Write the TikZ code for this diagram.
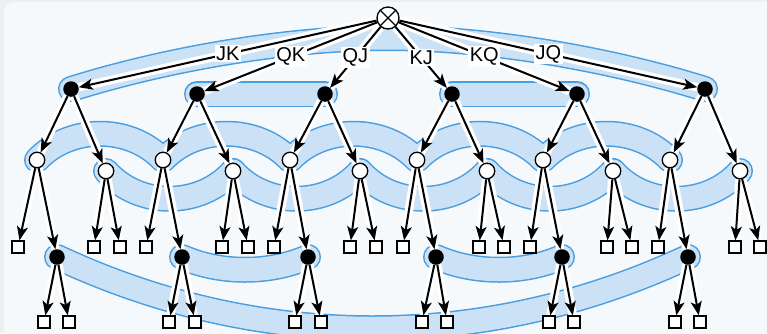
\documentclass[tikz,border=0pt]{standalone}
\usepackage{fontspec}
\newfontfamily\lbl{Liberation Sans}
\usetikzlibrary{arrows.meta}
\definecolor{bandfill}{HTML}{CBE2F6}
\definecolor{bandline}{HTML}{4A9EE0}
\definecolor{panelbg}{HTML}{F5F9FC}
\definecolor{outerbg}{HTML}{EFEFEF}
\pgfdeclarelayer{back}
\pgfdeclarelayer{halos}
\pgfdeclarelayer{edges}
\pgfsetlayers{back,halos,edges,main}
\begin{document}
\begin{tikzpicture}[x=1pt,y=-1pt,
  chance/.style={circle, draw, fill=white, line width=1.3pt, minimum size=22pt, inner sep=0pt,
    path picture={\draw[line width=1.3pt] (path picture bounding box.north west) -- (path picture bounding box.south east)
      (path picture bounding box.north east) -- (path picture bounding box.south west);}},
  pone/.style={circle, fill=black, minimum size=15.5pt, inner sep=0pt},
  ptwo/.style={circle, draw, fill=white, line width=1.3pt, minimum size=15.5pt, inner sep=0pt},
  leaf/.style={rectangle, draw, fill=white, line width=1.3pt, minimum size=12pt, inner sep=0pt},
  halo/.style={draw=white, line width=8.5pt},
  edge/.style={draw=black, line width=2pt, -{Stealth[length=14pt,width=11pt,inset=3.5pt]}},
  lab/.style={fill=white, inner sep=1.5pt, font=\lbl\fontsize{20}{22}\selectfont},
  bandout/.style={draw=bandline, line width=26pt, line cap=round, line join=round},
  bandin/.style={draw=bandfill, line width=23pt, line cap=round, line join=round},
]
\useasboundingbox (0,0) rectangle (767,333);
% nodes
\node[chance] (r) at (388,18) {};
\node[pone] (a1) at (71,89) {};
\node[pone] (a2) at (197,94) {};
\node[pone] (a3) at (325,94) {};
\node[pone] (a4) at (452,94) {};
\node[pone] (a5) at (577,94) {};
\node[pone] (a6) at (705,89) {};
\foreach \i/\cx/\dx in {1/37/106, 2/163/233, 3/290/360, 4/417/487, 5/543/613, 6/670/740} {
  \node[ptwo] (c\i) at (\cx,160) {};
  \node[ptwo] (d\i) at (\dx,171) {};
}
\foreach \i/\sx/\ex/\ux/\vx in {1/18/57/94/120, 2/146/182/222/248, 3/274/308/350/376, 4/403/436/479/504, 5/530/562/607/632, 6/658/688/735/760} {
  \node[leaf] (s\i) at (\sx,247) {};
  \node[pone] (e\i) at (\ex,257) {};
  \node[leaf] (u\i) at (\ux,247) {};
  \node[leaf] (v\i) at (\vx,247) {};
}
\foreach \i/\px/\qx in {1/44/69, 2/169/195, 3/295/321, 4/422/447, 5/549/574, 6/675/700} {
  \node[leaf] (p\i) at (\px,322) {};
  \node[leaf] (q\i) at (\qx,322) {};
}
% background and bands
\begin{pgfonlayer}{back}
\fill[outerbg] (0,0) rectangle (767,333);
\fill[panelbg, rounded corners=10pt] (4,2) rectangle (790,350);
\foreach \st in {bandout, bandin} {
  \draw[\st] (a1.center) .. controls (180,55) and (300,38) .. (388,38)
     .. controls (476,38) and (596,55) .. (a6.center);
  \draw[\st] (a2.center) -- (a3.center);
  \draw[\st] (a4.center) -- (a5.center);
  \draw[\st] (c1.center) .. controls (70,125) and (130,125) .. (c2.center)
     .. controls (196,125) and (257,125) .. (c3.center)
     .. controls (323,125) and (384,125) .. (c4.center)
     .. controls (450,125) and (510,125) .. (c5.center)
     .. controls (576,125) and (637,125) .. (c6.center);
  \draw[\st] (d1.center) .. controls (139,208) and (200,208) .. (d2.center)
     .. controls (266,208) and (327,208) .. (d3.center)
     .. controls (393,208) and (454,208) .. (d4.center)
     .. controls (520,208) and (580,208) .. (d5.center)
     .. controls (646,208) and (707,208) .. (d6.center);
  \draw[\st] (e2.center) .. controls (220,274) and (270,274) .. (e3.center);
  \draw[\st] (e4.center) .. controls (474,274) and (524,274) .. (e5.center);
  \draw[\st] (e1.center) .. controls (260,352) and (485,352) .. (e6.center);
}
\end{pgfonlayer}
% edge halos
\begin{pgfonlayer}{halos}
\foreach \i in {1,...,6} {
  \draw[halo] (r) -- (a\i);
  \draw[halo] (a\i) -- (c\i);
  \draw[halo] (a\i) -- (d\i);
  \draw[halo] (c\i) -- (s\i);
  \draw[halo] (c\i) -- (e\i);
  \draw[halo] (d\i) -- (u\i);
  \draw[halo] (d\i) -- (v\i);
  \draw[halo] (e\i) -- (p\i);
  \draw[halo] (e\i) -- (q\i);
}
\end{pgfonlayer}
% edges
\begin{pgfonlayer}{edges}
\foreach \i/\t in {1/JK, 2/QK, 3/QJ, 4/KJ, 5/KQ, 6/JQ} {
  \draw[edge] (r) -- node[lab] {\t} (a\i);
}
\foreach \i in {1,...,6} {
  \draw[edge] (a\i) -- (c\i);
  \draw[edge] (a\i) -- (d\i);
  \draw[edge] (c\i) -- (s\i);
  \draw[edge] (c\i) -- (e\i);
  \draw[edge] (d\i) -- (u\i);
  \draw[edge] (d\i) -- (v\i);
  \draw[edge] (e\i) -- (p\i);
  \draw[edge] (e\i) -- (q\i);
}
\end{pgfonlayer}
\end{tikzpicture}
\end{document}
